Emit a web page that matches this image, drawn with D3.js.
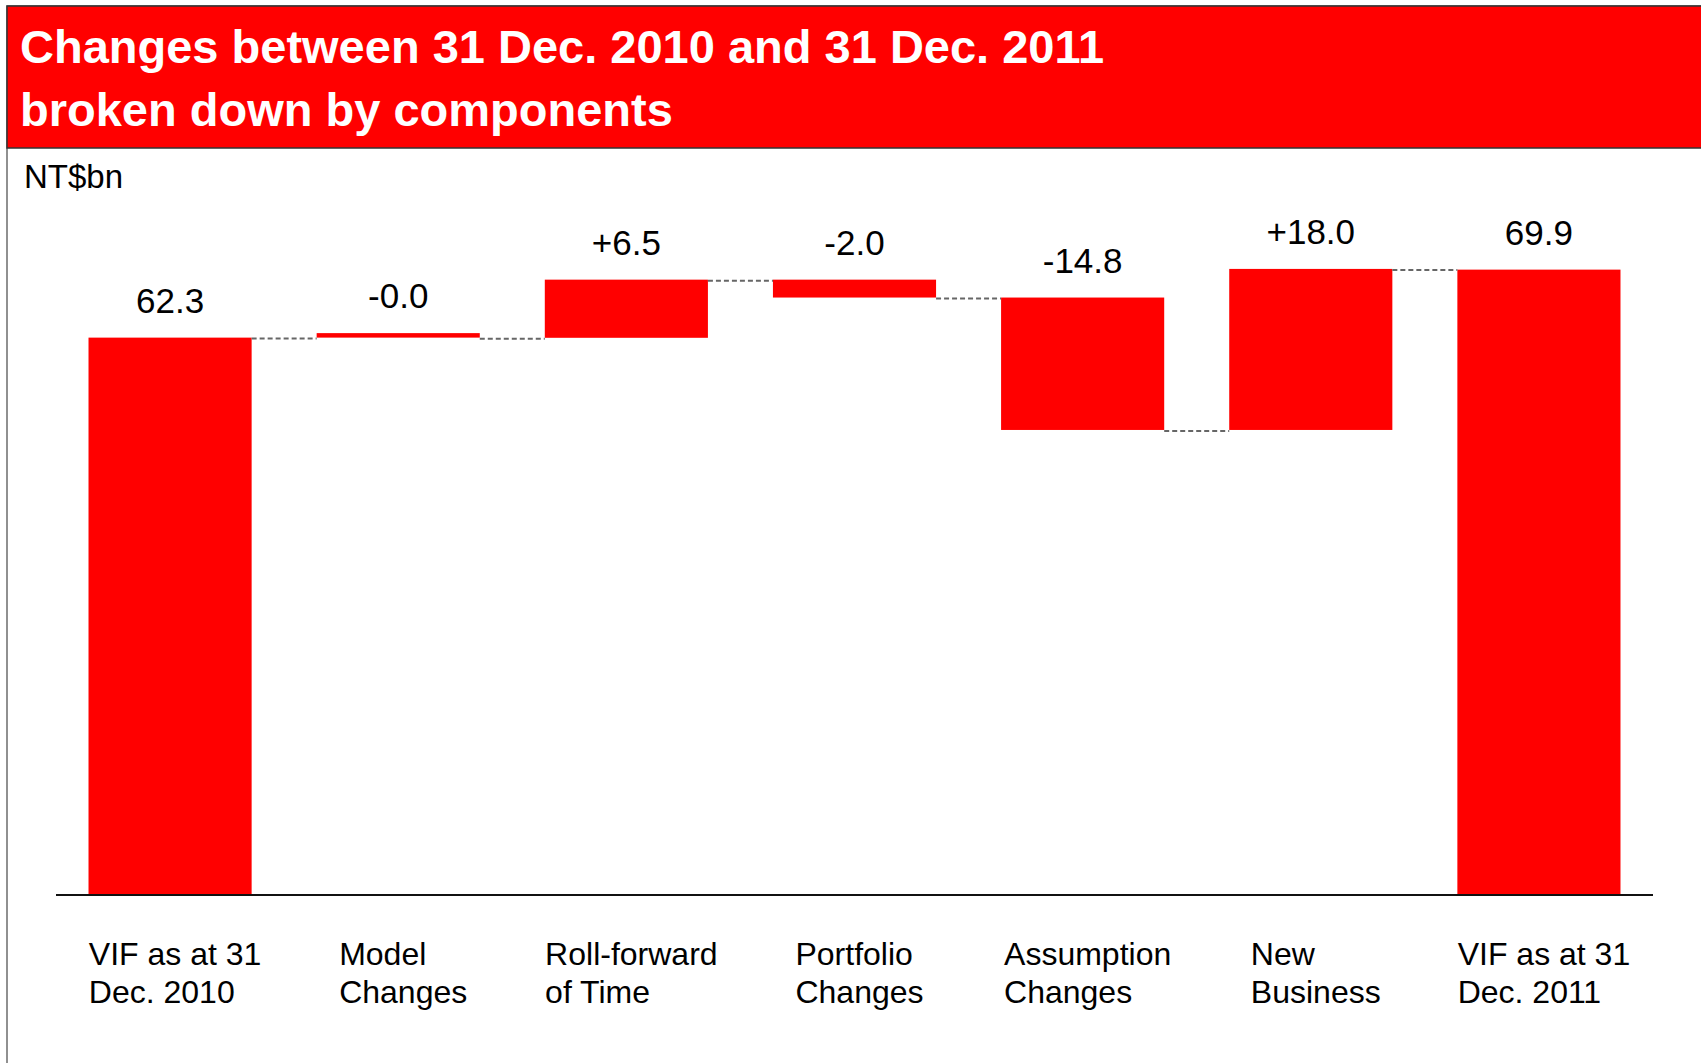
<!DOCTYPE html>
<html>
<head>
<meta charset="utf-8">
<script src="https://cdn.jsdelivr.net/npm/d3@7"></script>
<style>
  html, body { margin: 0; padding: 0; background: #fff; }
  svg { display: block; }
  text { font-family: "Liberation Sans", Arial, Helvetica, sans-serif; }
</style>
</head>
<body>
<svg id="chart" width="1701" height="1063"></svg>
<script>
// ---- data ----
const titleLines = ["Changes between 31 Dec. 2010 and 31 Dec. 2011", "broken down by components"];
const unitLabel = "NT$bn";
const categories = ["VIF 2010", "Model Changes", "Roll-forward of Time", "Portfolio Changes", "Assumption Changes", "New Business", "VIF 2011"];
const categoryLines = [
  ["VIF as at 31", "Dec. 2010"],
  ["Model", "Changes"],
  ["Roll-forward", "of Time"],
  ["Portfolio", "Changes"],
  ["Assumption", "Changes"],
  ["New", "Business"],
  ["VIF as at 31", "Dec. 2011"]
];
const values = [62.3, -0.02, 6.5, -2.0, -14.8, 18.0, 69.9];
const barTypes = ["total", "delta", "delta", "delta", "delta", "delta", "total"];

// ---- layout ----
const W = 1701, H = 1063;
const svg = d3.select("#chart");
const RED = "#ff0000";

// frame + header
svg.append("rect").attr("x", 7).attr("y", 6).attr("width", W).attr("height", H)
  .attr("fill", "#fff").attr("stroke", "#222").attr("stroke-width", 1);
svg.append("rect").attr("x", 7).attr("y", 6).attr("width", W).attr("height", 142)
  .attr("fill", RED).attr("stroke", "#333").attr("stroke-width", 1.5);

svg.selectAll("text.title").data(titleLines).enter().append("text")
  .attr("class", "title")
  .attr("x", 20).attr("y", (d, i) => 63 + i * 63)
  .attr("fill", "#fff").attr("font-size", 47).attr("font-weight", "bold")
  .text(d => d);

svg.append("text").attr("x", 24).attr("y", 188)
  .attr("font-size", 33).attr("fill", "#000").text(unitLabel);

// scales
const x = d3.scaleBand().domain(categories).range([56, 1653])
  .paddingInner(0.285).paddingOuter(0.1425);
const y = d3.scaleLinear().domain([0, 75]).range([895, 224]);

// compute waterfall segments
let running = 0;
const segs = values.map((v, i) => {
  let start, end;
  if (barTypes[i] === "total") { start = 0; end = v; running = v; }
  else { start = running; end = running + v; running = end; }
  return { cat: categories[i], v, start, end, type: barTypes[i], i };
});

const minH = 4.5;
function barRect(d) {
  let y0 = y(Math.max(d.start, d.end)), y1 = y(Math.min(d.start, d.end));
  if (y1 - y0 < minH) { y1 = y(d.start); y0 = y1 - minH; }
  return { y: y0, h: y1 - y0 };
}

// bars
svg.append("g").selectAll("rect").data(segs).enter().append("rect")
  .attr("x", d => x(d.cat)).attr("width", x.bandwidth())
  .attr("y", d => barRect(d).y).attr("height", d => barRect(d).h)
  .attr("fill", RED);

// connectors
const conns = segs.slice(0, -1).map((d, i) => ({ from: d, to: segs[i + 1], level: d.end }));
svg.append("g").selectAll("line").data(conns).enter().append("line")
  .attr("x1", d => x(d.from.cat) + x.bandwidth())
  .attr("x2", d => x(d.to.cat))
  .attr("y1", d => y(d.level) + 1).attr("y2", d => y(d.level) + 1)
  .attr("stroke", "#666").attr("stroke-width", 2)
  .attr("stroke-dasharray", "5,3");

// axis baseline
svg.append("line").attr("x1", 56).attr("x2", 1653).attr("y1", y(0)).attr("y2", y(0))
  .attr("stroke", "#111").attr("stroke-width", 2);

// value labels
const fmt = d => d.type === "total" ? d.v.toFixed(1)
  : (d.v > 0 ? "+" : "-") + Math.abs(d.v).toFixed(1);
svg.append("g").selectAll("text").data(segs).enter().append("text")
  .attr("x", d => x(d.cat) + x.bandwidth() / 2)
  .attr("y", d => barRect(d).y - 25)
  .attr("text-anchor", "middle").attr("font-size", 35).attr("fill", "#000")
  .text(fmt);

// category labels (left-aligned blocks centred under bars)
const catG = svg.append("g").selectAll("g").data(segs).enter().append("g");
catG.each(function(d, i) {
  const g = d3.select(this);
  const t = g.append("text").attr("font-size", 32).attr("fill", "#000");
  categoryLines[i].forEach((ln, j) => {
    t.append("tspan").attr("x", 0).attr("y", 965 + j * 38).text(ln);
  });
  const w = t.node().getBBox().width;
  g.attr("transform", `translate(${x(d.cat) + x.bandwidth() / 2 - w / 2 + 5},0)`);
});
</script>
</body>
</html>
